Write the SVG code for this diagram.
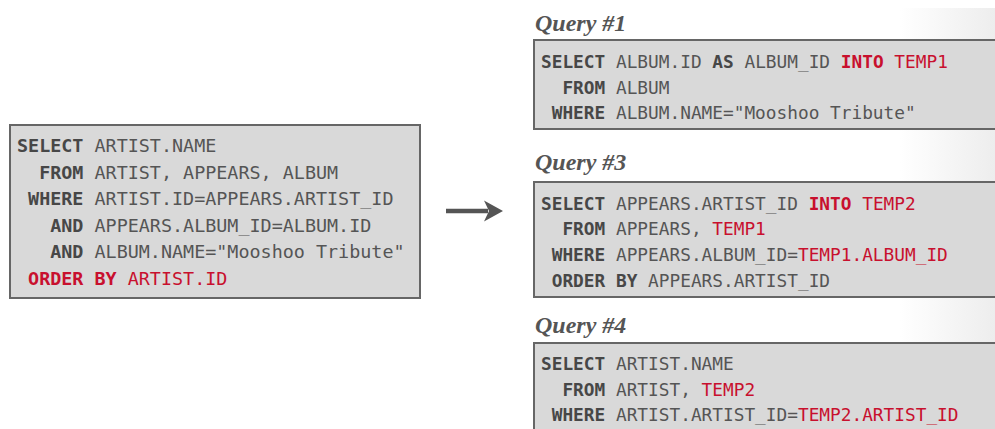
<svg xmlns="http://www.w3.org/2000/svg" width="995" height="429" viewBox="0 0 995 429">
<defs>
<linearGradient id="bgfade" x1="0" y1="0" x2="1" y2="0">
<stop offset="0" stop-color="#ffffff"/>
<stop offset="1" stop-color="#ededed"/>
</linearGradient>
<style>
.box{fill:#d9d9d9;stroke:#666;stroke-width:2}
.code{font-family:"DejaVu Sans Mono","Liberation Mono",monospace;fill:#555;white-space:pre}
.l{font-size:18.4px}
.r{font-size:17.8px}
.kw{font-weight:bold;fill:#474747}
.red{fill:#c8102e}
.title{font-family:"Liberation Serif","Times New Roman",serif;font-style:italic;font-weight:bold;font-size:24px;fill:#555}
</style>
</defs>
<rect x="900" y="8" width="95" height="421" fill="url(#bgfade)"/>

<g id="original">
<rect class="box" x="10" y="125" width="410" height="173"/>
<text class="code l" xml:space="preserve"><tspan x="17" y="152"><tspan class="kw">SELECT</tspan> ARTIST.NAME</tspan><tspan x="17" y="178.5"><tspan class="kw">  FROM</tspan> ARTIST, APPEARS, ALBUM</tspan><tspan x="17" y="205"><tspan class="kw"> WHERE</tspan> ARTIST.ID=APPEARS.ARTIST_ID</tspan><tspan x="17" y="231.5"><tspan class="kw">   AND</tspan> APPEARS.ALBUM_ID=ALBUM.ID</tspan><tspan x="17" y="258"><tspan class="kw">   AND</tspan> ALBUM.NAME="Mooshoo Tribute"</tspan><tspan x="17" y="284.5" class="red"><tspan class="kw red"> ORDER BY</tspan> ARTIST.ID</tspan></text>
</g>

<g id="connectors">
<line x1="446" y1="211" x2="488" y2="211" stroke="#555" stroke-width="4.5"/>
<path d="M503,211 L484,200.5 L489,211 L484,221.5 Z" fill="#555"/>
</g>

<g id="query1">
<text class="title" x="535" y="31">Query #1</text>
<rect class="box" x="534" y="40" width="470" height="89"/>
<text class="code r" xml:space="preserve"><tspan x="541" y="68"><tspan class="kw">SELECT</tspan> ALBUM.ID <tspan class="kw">AS</tspan> ALBUM_ID <tspan class="kw red">INTO</tspan> <tspan class="red">TEMP1</tspan></tspan><tspan x="541" y="93.5"><tspan class="kw">  FROM</tspan> ALBUM</tspan><tspan x="541" y="119"><tspan class="kw"> WHERE</tspan> ALBUM.NAME="Mooshoo Tribute"</tspan></text>
</g>

<g id="query3">
<text class="title" x="535" y="170">Query #3</text>
<rect class="box" x="534" y="182" width="470" height="115"/>
<text class="code r" xml:space="preserve"><tspan x="541" y="209.5"><tspan class="kw">SELECT</tspan> APPEARS.ARTIST_ID <tspan class="kw red">INTO</tspan> <tspan class="red">TEMP2</tspan></tspan><tspan x="541" y="235"><tspan class="kw">  FROM</tspan> APPEARS, <tspan class="red">TEMP1</tspan></tspan><tspan x="541" y="261"><tspan class="kw"> WHERE</tspan> APPEARS.ALBUM_ID=<tspan class="red">TEMP1.ALBUM_ID</tspan></tspan><tspan x="541" y="286.5"><tspan class="kw"> ORDER BY</tspan> APPEARS.ARTIST_ID</tspan></text>
</g>

<g id="query4">
<text class="title" x="535" y="333">Query #4</text>
<rect class="box" x="534" y="343" width="470" height="100"/>
<text class="code r" xml:space="preserve"><tspan x="541" y="370"><tspan class="kw">SELECT</tspan> ARTIST.NAME</tspan><tspan x="541" y="396"><tspan class="kw">  FROM</tspan> ARTIST, <tspan class="red">TEMP2</tspan></tspan><tspan x="541" y="421"><tspan class="kw"> WHERE</tspan> ARTIST.ARTIST_ID=<tspan class="red">TEMP2.ARTIST_ID</tspan></tspan></text>
</g>
</svg>
